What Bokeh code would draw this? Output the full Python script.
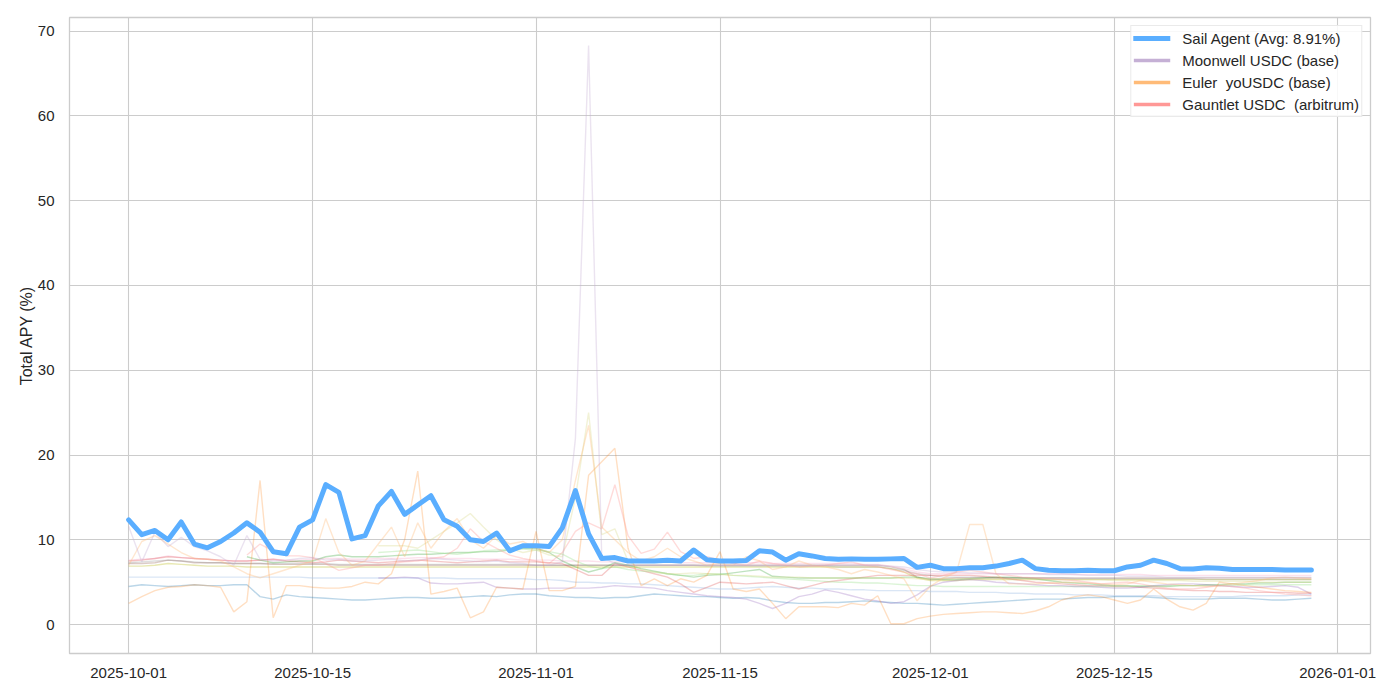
import pandas as pd
from bokeh.plotting import figure
from bokeh.models import Range1d, FixedTicker, DatetimeTickFormatter, Legend, LegendItem, ColumnDataSource
from bokeh.embed import file_html
from bokeh.resources import INLINE

# ---------------- data ----------------
START_DATE = "2025-10-01"
N_DAYS = 91
X_TICK_DATES = ["2025-10-01", "2025-10-15", "2025-11-01", "2025-11-15",
                "2025-12-01", "2025-12-15", "2026-01-01"]
Y_TICKS = [0, 10, 20, 30, 40, 50, 60, 70]

SAIL_LABEL = "Sail Agent (Avg: 8.91%)"
SAIL_AGENT = [12.35, 10.6, 11.1, 10.0, 12.1, 9.5, 9.05, 9.8, 10.8, 12.0,
              10.9, 8.6, 8.35, 11.5, 12.35, 16.5, 15.6, 10.1, 10.5, 14.0,
              15.7, 13.0, 14.1, 15.2, 12.35, 11.6, 10.0, 9.8, 10.8, 8.7,
              9.3, 9.3, 9.2, 11.4, 15.8, 10.7, 7.8, 7.9, 7.5, 7.5,
              7.5, 7.6, 7.5, 8.8, 7.65, 7.5, 7.5, 7.55, 8.7, 8.55,
              7.6, 8.35, 8.1, 7.8, 7.7, 7.75, 7.7, 7.7, 7.75, 7.8,
              6.75, 7.0, 6.6, 6.6, 6.7, 6.7, 6.9, 7.2, 7.6, 6.6,
              6.4, 6.35, 6.35, 6.4, 6.35, 6.35, 6.8, 7.0, 7.6, 7.2,
              6.6, 6.55, 6.7, 6.65, 6.5, 6.5, 6.5, 6.5, 6.45, 6.45, 6.45]

MOONWELL_LABEL = "Moonwell USDC (base)"
MOONWELL = [11.6, 7.4, 10.9, 9.2, 10.3, 9.2, 8.7, 8.0, 7.0, 10.5,
            7.7, 7.5, 7.6, 7.8, 7.9, 7.6, 7.7, 7.5, 7.5, 7.6,
            7.7, 7.5, 7.6, 7.8, 7.7, 7.6, 7.5, 7.4, 7.5, 7.3,
            7.2, 7.0, 7.0, 7.4, 22.0, 68.3, 8.0, 7.2, 7.0, 7.0,
            7.0, 7.0, 7.0, 7.0, 7.0, 7.0, 7.0, 7.0, 7.0, 7.0,
            7.0, 7.0, 7.0, 7.0, 7.0, 7.0, 7.0, 7.0, 6.9, 6.8,
            6.5, 6.3, 6.2, 6.2, 6.1, 6.1, 6.0, 6.0, 6.0, 6.0,
            5.9, 5.9, 5.9, 5.8, 5.8, 5.8, 5.7, 5.7, 5.7, 5.6,
            5.6, 5.6, 5.6, 5.6, 5.6, 5.6, 5.6, 5.6, 5.6, 5.6, 5.6]

EULER_LABEL = "Euler  yoUSDC (base)"
EULER = [7.0, 9.8, 10.5, 9.5, 8.5, 7.8, 7.7, 7.5, 6.8, 6.0,
         5.5, 6.0, 6.5, 7.0, 7.5, 12.5, 8.5, 7.0, 7.5, 9.5,
         11.5, 8.0, 12.0, 9.0, 11.0, 12.5, 10.0, 9.0, 10.5, 9.5,
         9.8, 9.0, 8.5, 10.0, 17.0, 23.5, 11.5, 10.0, 8.5, 7.5,
         8.0, 9.0, 8.0, 7.5, 7.0, 7.2, 7.0, 8.0, 7.5, 6.5,
         6.8, 7.5, 7.0, 6.8, 6.5, 6.0, 6.5, 6.2, 5.8, 5.4,
         2.8, 4.5, 5.5, 6.2, 11.8, 11.8, 6.0, 4.8, 4.8, 4.8,
         4.9, 5.0, 5.0, 4.9, 4.8, 4.7, 4.8, 5.2, 5.0, 4.8,
         4.7, 4.6, 4.5, 4.6, 4.8, 5.0, 5.2, 5.5, 5.6, 5.5, 5.4]

GAUNTLET_LABEL = "Gauntlet USDC  (arbitrum)"
GAUNTLET_START = 9
GAUNTLET = [8.2, 9.5, 8.7, 8.1, 8.1, 7.9, 7.2, 6.4, 6.7, 7.0,
            7.0, 7.2, 7.4, 7.5, 7.8, 8.0, 9.0, 11.3, 9.8, 9.0,
            8.2, 7.8, 7.5, 7.2, 8.5, 11.0, 12.0, 11.3, 16.5, 10.5,
            8.4, 8.9, 10.9, 8.6, 7.8, 8.0, 7.6, 7.2, 7.0, 7.5,
            7.2, 7.0, 6.8, 6.9, 7.0, 7.2, 7.4, 7.0, 6.8, 6.5,
            6.2, 6.0, 5.5, 5.8, 6.2, 6.4, 6.2, 6.0, 5.8, 5.6,
            5.5, 5.4, 5.3, 5.2, 5.0, 4.8, 4.9, 5.0, 4.8, 4.5,
            4.3, 4.2, 4.2, 4.4, 4.6, 4.5, 4.3, 4.0, 3.8, 3.6,
            3.5, 3.4]

# other (unlabelled) pools
POOL_BLUE = [4.5, 4.7, 4.6, 4.5, 4.6, 4.7, 4.6, 4.6, 4.7, 4.7,
             3.3, 3.0, 3.5, 3.3, 3.2, 3.1, 3.0, 2.9, 2.9, 3.0,
             3.1, 3.2, 3.2, 3.1, 3.1, 3.2, 3.3, 3.4, 3.3, 3.5,
             3.6, 3.6, 3.4, 3.3, 3.2, 3.2, 3.1, 3.2, 3.2, 3.4,
             3.6, 3.5, 3.4, 3.3, 3.3, 3.2, 3.1, 3.2, 3.1, 2.8,
             2.6, 2.5, 2.5, 2.6, 2.6, 2.7, 2.8, 2.7, 2.6, 2.5,
             2.5, 2.4, 2.3, 2.4, 2.5, 2.6, 2.7, 2.8, 2.9, 3.0,
             3.0, 3.0, 3.1, 3.2, 3.2, 3.3, 3.3, 3.3, 3.2, 3.1,
             3.0, 3.0, 3.0, 3.1, 3.1, 3.1, 3.0, 2.9, 2.9, 3.0, 3.1]

POOL_LIGHTBLUE = [5.6, 5.6, 5.6, 5.6, 5.6, 5.6, 5.6, 5.6, 5.6, 5.6,
                  5.6, 5.6, 5.6, 5.6, 5.5, 5.5, 5.5, 5.5, 5.5, 5.5,
                  5.5, 5.5, 5.5, 5.5, 5.5, 5.4, 5.4, 5.4, 5.4, 5.4,
                  5.4, 5.3, 5.3, 5.2, 5.0, 5.0, 4.9, 4.9, 4.8, 4.8,
                  4.7, 4.6, 4.5, 4.4, 4.3, 4.2, 4.2, 4.3, 4.4, 4.5,
                  4.4, 4.3, 4.3, 4.2, 4.2, 4.1, 4.1, 4.0, 4.0, 4.0,
                  4.0, 3.9, 3.9, 3.9, 3.8, 3.8, 3.8, 3.7, 3.7, 3.6,
                  3.6, 3.6, 3.5, 3.5, 3.5, 3.4, 3.4, 3.4, 3.4, 3.3,
                  3.3, 3.3, 3.3, 3.3, 3.3, 3.4, 3.4, 3.4, 3.4, 3.5, 3.5]

POOL_ORANGE = [2.5, 3.3, 4.0, 4.4, 4.5, 4.7, 4.6, 4.4, 1.5, 2.7,
               17.0, 0.8, 4.6, 4.6, 4.4, 4.3, 4.3, 4.5, 5.0, 4.8,
               6.0, 10.0, 18.1, 3.6, 3.9, 4.3, 0.8, 1.5, 4.4, 4.3,
               4.2, 11.0, 4.0, 4.0, 4.5, 17.6, 19.2, 20.8, 9.0, 4.6,
               5.4, 4.6, 5.4, 5.0, 5.8, 8.6, 4.2, 3.9, 4.2, 2.5,
               0.7, 2.1, 2.1, 2.1, 2.0, 2.5, 2.3, 3.4, 0.1, 0.1,
               0.7, 1.0, 1.2, 1.3, 1.4, 1.5, 1.5, 1.4, 1.3, 1.6,
               2.1, 2.9, 3.3, 3.5, 3.3, 2.9, 2.5, 2.9, 4.2, 3.0,
               2.1, 1.7, 2.5, 5.0, 4.8, 4.6, 4.4, 4.2, 4.0, 3.9, 3.8]

POOL_RED = [7.5, 7.6, 7.8, 8.0, 7.9, 7.8, 7.7, 7.6, 7.5, 7.5,
            7.6, 7.7, 7.5, 7.4, 7.3, 7.4, 7.6, 7.5, 7.4, 7.3,
            7.4, 7.5, 7.6, 7.5, 7.4, 7.3, 7.4, 7.5, 7.6, 7.4,
            7.4, 7.4, 7.3, 7.2, 6.5, 5.8, 5.8, 7.2, 6.8, 6.4,
            6.0, 5.6, 4.8, 3.8, 4.4, 5.0, 4.9, 4.8, 4.9, 5.0,
            4.6, 4.2, 4.6, 5.0, 5.2, 5.4, 5.6, 5.8, 5.8, 5.8,
            5.8, 5.8, 5.8, 5.8, 5.8, 5.7, 5.6, 5.4, 5.2, 5.0,
            4.9, 4.8, 4.7, 4.6, 4.6, 4.5, 4.5, 4.4, 4.3, 4.2,
            4.1, 4.0, 4.0, 3.9, 3.9, 3.8, 3.8, 3.8, 3.8, 3.7, 3.7]

POOL_GREEN_START = 9
POOL_GREEN = [8.0, 7.6, 7.3, 7.4, 7.5, 7.5, 8.0, 8.2, 8.0, 8.0,
              8.0, 8.1, 8.2, 8.3, 8.3, 8.4, 8.5, 8.5, 8.6, 8.6,
              8.8, 9.0, 9.0, 8.5, 7.5, 6.8, 6.2, 6.6, 7.3, 7.0,
              6.6, 6.3, 6.0, 5.8, 5.6, 5.8, 5.9, 6.1, 6.3, 6.5,
              5.7, 5.6, 5.5, 5.5, 5.5, 5.5, 5.5, 5.5, 5.5, 5.5,
              5.6, 5.6, 5.4, 5.3, 5.3, 5.4, 5.5, 5.6, 5.6, 5.5,
              5.4, 5.2, 5.0, 4.9, 4.8, 4.7, 4.6, 4.6, 4.5, 4.5,
              4.5, 4.6, 4.6, 4.7, 4.7, 4.8, 4.8, 4.9, 4.9, 5.0,
              5.0, 5.0]

POOL_LIGHTGREEN_START = 19
POOL_LIGHTGREEN = [8.5, 8.6, 8.7, 8.8, 8.6, 8.4, 8.3, 8.5, 8.7, 8.8,
                   8.9, 8.9, 8.8, 8.6, 8.3, 7.5, 6.9, 6.6, 6.8, 6.5,
                   6.3, 6.2, 6.0, 5.8, 5.8, 6.0, 6.0, 5.8, 5.7, 5.6,
                   5.5, 5.4, 5.3, 5.2, 5.1, 5.0, 5.0, 4.9, 4.9, 4.8,
                   4.7, 4.6, 4.6, 4.5, 4.5, 4.5, 4.5, 4.5, 4.5, 4.5,
                   4.5, 4.5, 4.5, 4.5, 4.5, 4.5, 4.5, 4.5, 4.6, 4.6,
                   4.6, 4.6, 4.6, 4.6, 4.6, 4.6, 4.7, 4.7, 4.7, 4.7,
                   4.7, 4.7]

POOL_BROWN = [7.2, 7.2, 7.3, 7.6, 7.5, 7.3, 7.3, 7.3, 7.2, 7.2,
              7.2, 7.1, 7.1, 7.1, 7.1, 7.1, 7.0, 7.0, 7.0, 7.0,
              7.0, 7.0, 7.0, 7.0, 7.0, 7.0, 7.0, 7.0, 7.0, 7.0,
              7.0, 7.0, 7.0, 7.0, 7.0, 7.0, 7.0, 7.0, 7.0, 7.0,
              7.0, 7.0, 7.0, 7.0, 7.0, 7.0, 7.0, 7.0, 7.0, 7.0,
              7.0, 7.0, 7.0, 7.0, 7.0, 7.0, 7.0, 7.0, 6.8, 6.5,
              5.6, 5.3, 5.4, 5.5, 5.5, 5.5, 5.5, 5.5, 5.5, 5.5,
              5.5, 5.5, 5.5, 5.5, 5.5, 5.5, 5.5, 5.5, 5.5, 5.5,
              5.5, 5.5, 5.5, 5.5, 5.5, 5.5, 5.5, 5.5, 5.5, 5.5, 5.5]

POOL_OLIVE = [6.9, 6.9, 7.0, 7.2, 7.1, 7.0, 6.9, 6.9, 6.9, 6.8,
              6.8, 6.8, 6.8, 6.8, 6.8, 6.8, 6.8, 6.8, 6.8, 6.8,
              6.8, 6.8, 6.8, 6.8, 6.8, 6.8, 6.8, 6.8, 6.8, 6.8,
              6.8, 6.8, 6.8, 6.8, 6.8, 6.8, 6.8, 6.8, 6.8, 6.8,
              6.8, 6.8, 6.8, 6.8, 6.8, 6.8, 6.8, 6.8, 6.8, 6.8,
              6.8, 6.8, 6.8, 6.8, 6.8, 6.8, 6.8, 6.8, 6.6, 6.2,
              5.5, 5.2, 5.2, 5.2, 5.3, 5.3, 5.3, 5.3, 5.3, 5.3,
              5.3, 5.3, 5.3, 5.3, 5.3, 5.3, 5.3, 5.3, 5.3, 5.3,
              5.3, 5.3, 5.3, 5.3, 5.3, 5.3, 5.3, 5.3, 5.3, 5.3, 5.3]

POOL_GREY = [7.3, 7.4, 7.5, 7.6, 7.5, 7.4, 7.3, 7.3, 7.2, 7.2,
             7.2, 7.2, 7.2, 7.2, 7.2, 7.2, 7.1, 7.1, 7.1, 7.1,
             7.1, 7.1, 7.1, 7.1, 7.1, 7.1, 7.1, 7.1, 7.1, 7.1,
             7.1, 7.0, 7.0, 7.0, 7.0, 7.0, 7.0, 7.0, 7.0, 7.0,
             7.0, 7.0, 7.0, 7.0, 6.9, 6.9, 6.9, 6.9, 6.9, 6.9,
             6.9, 6.9, 6.9, 6.9, 6.8, 6.8, 6.8, 6.8, 6.6, 6.4,
             6.0, 5.8, 5.6, 5.6, 5.6, 5.6, 5.5, 5.5, 5.5, 5.5,
             5.5, 5.5, 5.4, 5.4, 5.4, 5.4, 5.4, 5.4, 5.4, 5.4,
             5.4, 5.4, 5.3, 5.3, 5.3, 5.3, 5.3, 5.3, 5.3, 5.3, 5.3]

POOL_PINK = [7.6, 7.7, 7.8, 8.1, 7.9, 7.8, 7.7, 7.6, 7.5, 7.5,
             7.6, 7.7, 7.6, 7.6, 7.7, 7.8, 7.8, 7.7, 7.7, 7.8,
             7.8, 7.8, 7.9, 7.9, 7.8, 7.8, 7.8, 7.7, 7.7, 7.7,
             7.6, 7.6, 7.6, 7.5, 7.5, 7.5, 7.4, 7.4, 7.4, 7.4,
             7.4, 7.4, 7.3, 7.3, 7.3, 7.3, 7.3, 7.3, 7.3, 7.2,
             7.2, 7.2, 7.2, 7.2, 7.2, 7.2, 7.1, 7.1, 6.9, 6.6,
             6.2, 6.0, 6.0, 6.0, 6.0, 6.0, 6.0, 6.0, 6.0, 6.0,
             6.0, 6.0, 5.9, 5.9, 5.9, 5.9, 5.9, 5.9, 5.8, 5.8,
             5.8, 5.8, 5.8, 5.8, 5.8, 5.8, 5.8, 5.8, 5.8, 5.8, 5.8]

POOL_LIGHTOLIVE_START = 19
POOL_LIGHTOLIVE = [9.3, 9.3, 9.3, 9.0, 10.0, 11.0, 12.0, 13.1, 11.5, 10.0,
                   9.0, 8.5, 8.8, 8.2, 8.0, 15.0, 25.0, 10.6, 11.3, 7.5,
                   6.5, 6.2, 6.0, 6.0, 6.1, 6.0, 5.9, 5.8, 5.8, 5.7,
                   5.6, 5.6, 5.6, 5.5, 5.5, 5.5, 5.5, 5.5, 5.5, 5.5,
                   5.5, 5.4, 5.4, 5.4, 5.4, 5.4, 5.4, 5.4, 5.4, 5.4,
                   5.4, 5.3, 5.3, 5.3, 5.3, 5.3, 5.2, 5.2, 5.2, 5.2,
                   5.2, 5.2, 5.1, 5.1, 5.1, 5.1, 5.1, 5.0, 5.0, 5.0,
                   5.0, 5.0]

POOL_PURPLE_START = 19
POOL_PURPLE = [5.5, 5.5, 5.6, 5.5, 4.9, 4.8, 4.8, 4.9, 5.0, 4.4,
               4.3, 4.2, 4.2, 4.3, 4.3, 4.3, 4.3, 4.4, 4.6, 4.5,
               4.4, 4.3, 4.0, 3.8, 3.6, 3.4, 3.3, 3.2, 3.0, 2.5,
               1.9, 2.5, 3.3, 3.6, 4.1, 3.8, 3.4, 3.0, 2.8, 2.5,
               2.7, 3.5, 4.5, 5.0, 5.2, 5.3, 5.2, 5.0, 4.9, 4.8,
               4.7, 4.6, 4.6, 4.5, 4.5, 4.4, 4.3, 4.3, 4.4, 4.6,
               4.7, 4.8, 4.8, 4.7, 4.6, 4.5, 4.4, 4.4, 4.5, 4.6,
               4.4, 3.6]

# ---------------- figure ----------------
DATES = pd.date_range(START_DATE, periods=N_DAYS, freq="D")

FONT = "Liberation Sans"
TEXT = "#262626"
GRID = "#cccccc"

p = figure(width=1400, height=700, x_axis_type="datetime",
           output_backend="svg", toolbar_location=None,
           min_border_left=69, min_border_right=30, min_border_top=17, min_border_bottom=47)
p.x_range = Range1d(start=(DATES[0] - pd.Timedelta(days=4.5)).to_pydatetime(),
                    end=(DATES[-1] + pd.Timedelta(days=4.5)).to_pydatetime())
p.y_range = Range1d(-3.41, 71.6)

p.background_fill_color = "white"
p.border_fill_color = "white"
p.outline_line_color = GRID
p.outline_line_width = 1.3

tick_ms = [pd.Timestamp(d).value / 1e6 for d in X_TICK_DATES]
p.xaxis.ticker = FixedTicker(ticks=tick_ms)
fmt = "%Y-%m-%d"
p.xaxis.formatter = DatetimeTickFormatter(milliseconds=fmt, seconds=fmt, minsec=fmt, minutes=fmt,
                                          hourmin=fmt, hours=fmt, days=fmt, months=fmt, years=fmt)
p.yaxis.ticker = FixedTicker(ticks=Y_TICKS)

for ax in (p.xaxis[0], p.yaxis[0]):
    ax.axis_line_color = None
    ax.major_tick_line_color = None
    ax.minor_tick_line_color = None
    ax.major_label_text_font = FONT
    ax.major_label_text_font_size = "15px"
    ax.major_label_text_color = TEXT
p.xaxis.major_label_standoff = 8
p.yaxis.major_label_standoff = 9
p.yaxis.axis_label = "Total APY (%)"
p.yaxis.axis_label_text_font = FONT
p.yaxis.axis_label_text_font_size = "16px"
p.yaxis.axis_label_text_font_style = "normal"
p.yaxis.axis_label_text_color = TEXT
p.yaxis.axis_label_standoff = 0

p.xgrid.grid_line_color = GRID
p.ygrid.grid_line_color = GRID
p.xgrid.grid_line_width = 1.1
p.ygrid.grid_line_width = 1.1

background = [
    (0, POOL_LIGHTBLUE, "#aec7e8", 0.45),
    (0, POOL_BLUE, "#1f77b4", 0.3),
    (0, POOL_BROWN, "#8c564b", 0.3),
    (0, POOL_OLIVE, "#bcbd22", 0.35),
    (0, POOL_GREY, "#7f7f7f", 0.25),
    (0, POOL_PINK, "#f7b6d2", 0.4),
    (0, POOL_RED, "#d62728", 0.25),
    (POOL_GREEN_START, POOL_GREEN, "#2ca02c", 0.3),
    (POOL_LIGHTGREEN_START, POOL_LIGHTGREEN, "#98df8a", 0.35),
    (POOL_LIGHTOLIVE_START, POOL_LIGHTOLIVE, "#dbdb8d", 0.35),
    (POOL_PURPLE_START, POOL_PURPLE, "#9467bd", 0.3),
    (0, POOL_ORANGE, "#ff7f0e", 0.25),
    (0, EULER, "#ffbb78", 0.35),
    (GAUNTLET_START, GAUNTLET, "#ff9896", 0.35),
    (0, MOONWELL, "#c5b0d5", 0.35),
]
for start, vals, color, alpha in background:
    src = ColumnDataSource(dict(x=DATES[start:start + len(vals)], y=vals))
    p.line("x", "y", source=src, line_color=color, line_alpha=alpha, line_width=1.4)

SAIL_COLOR = "#5aaeff"
sail_src = ColumnDataSource(dict(x=DATES[:len(SAIL_AGENT)], y=SAIL_AGENT))
r_sail = p.line("x", "y", source=sail_src, line_color=SAIL_COLOR, line_width=5,
                line_join="round", line_cap="round")

# legend-only renderers (a single NaN point draws nothing in the plot)
def legend_only(color):
    src = ColumnDataSource(dict(x=[DATES[0]], y=[float("nan")]))
    return p.line("x", "y", source=src, line_color=color, line_width=3.5)

r_moon = legend_only("#c5b0d5")
r_euler = legend_only("#ffbb78")
r_gaunt = legend_only("#ff9896")

legend = Legend(items=[
    LegendItem(label=SAIL_LABEL, renderers=[r_sail]),
    LegendItem(label=MOONWELL_LABEL, renderers=[r_moon]),
    LegendItem(label=EULER_LABEL, renderers=[r_euler]),
    LegendItem(label=GAUNTLET_LABEL, renderers=[r_gaunt]),
], location="top_right")
legend.margin = 8
legend.padding = 2
legend.spacing = 2
legend.glyph_width = 37
legend.glyph_height = 20
legend.label_height = 20
legend.label_standoff = 12
legend.label_text_font = FONT
legend.label_text_font_size = "15px"
legend.label_text_color = TEXT
legend.border_line_color = "#d6d6d6"
legend.border_line_width = 1
legend.background_fill_color = "white"
legend.background_fill_alpha = 0.85
p.add_layout(legend)

open("out.html", "w").write(file_html(p, INLINE))
